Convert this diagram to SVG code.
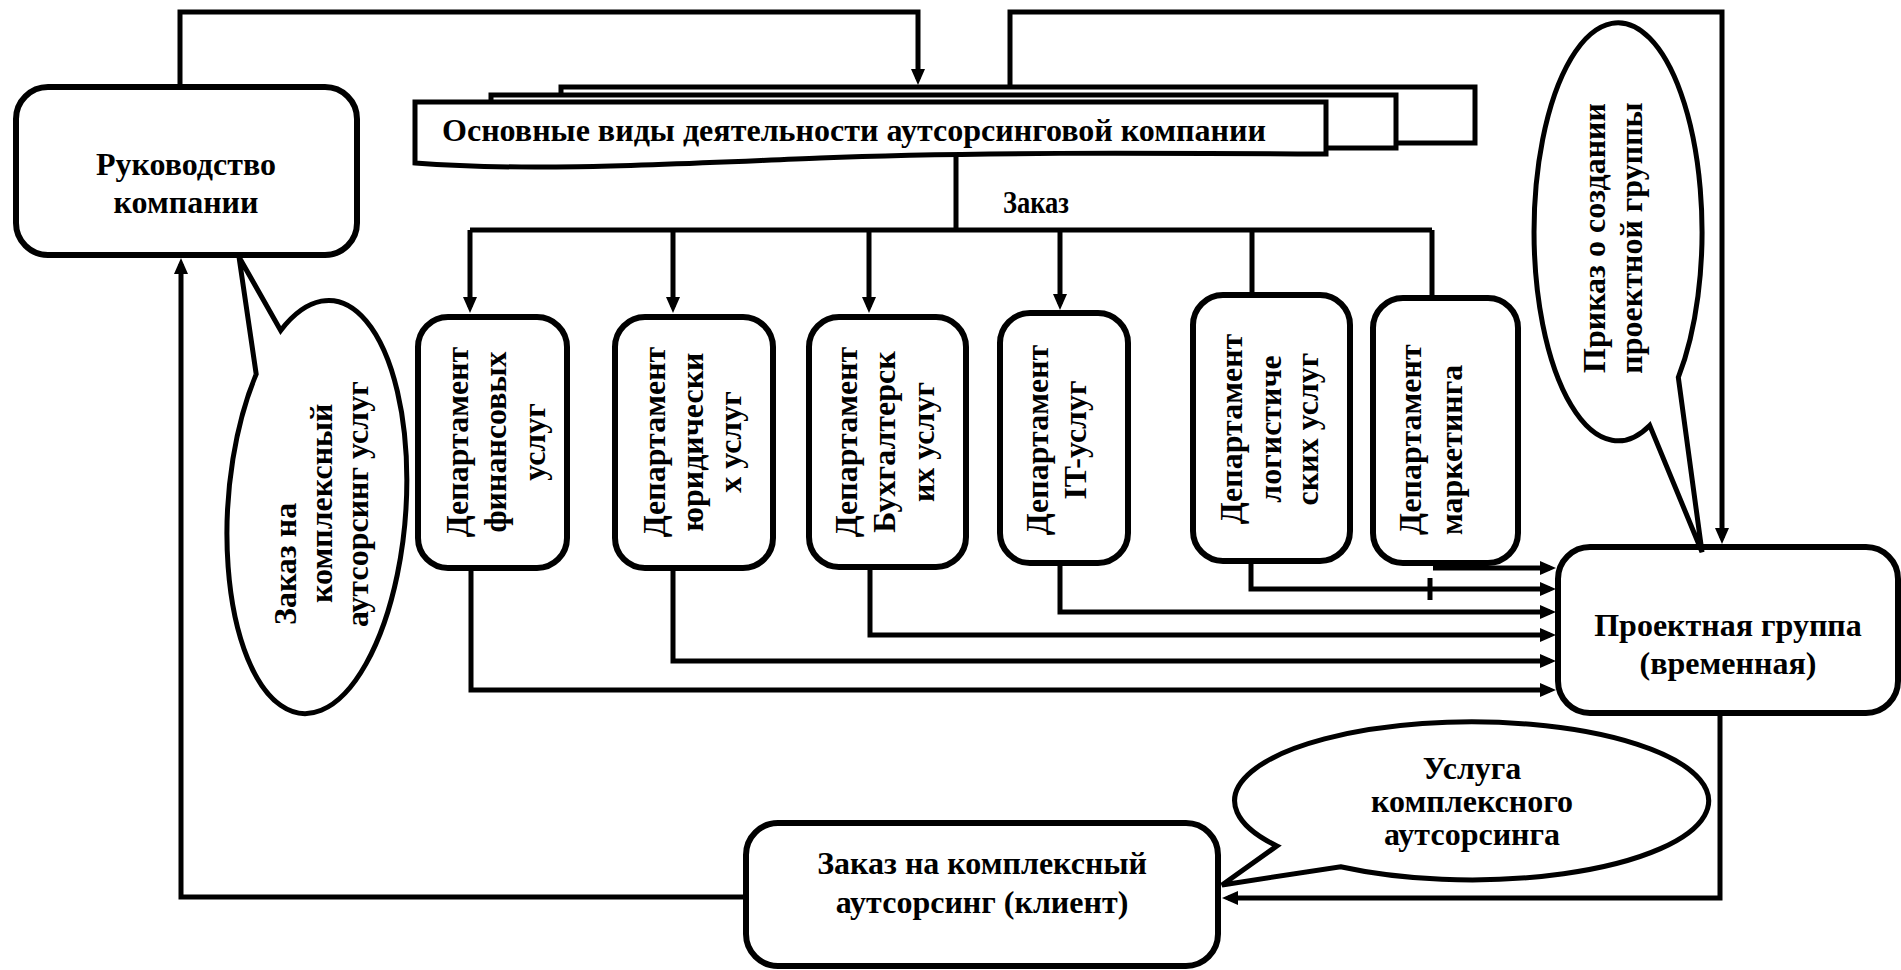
<svg xmlns="http://www.w3.org/2000/svg" width="1901" height="970" viewBox="0 0 1901 970">
<style>
.box{fill:#fff;stroke:#000;stroke-width:6}
.doc{fill:#fff;stroke:#000;stroke-width:5}
.ln{fill:none;stroke:#000;stroke-width:5}
.ar{fill:none;stroke:#000;stroke-width:5;marker-end:url(#ah)}
.call{fill:#fff;stroke:#000;stroke-width:5;stroke-linejoin:miter}
.t{font-family:'Liberation Serif','Times New Roman',serif;font-weight:bold;font-size:32px;fill:#000}
.c{text-anchor:middle}
</style>
<defs>
<marker id="ah" viewBox="0 0 16 14" markerWidth="16" markerHeight="14" refX="10" refY="7" orient="auto" markerUnits="userSpaceOnUse"><path d="M0,0L16,7L0,14Z" fill="#000"/></marker>
</defs>
<rect width="1901" height="970" fill="#fff"/>

<g id="connectors">
<path class="ar" d="M180,87V12H918V79"/>
<path class="ar" d="M1010,87V12H1722V538"/>
<path class="ln" d="M956,157V230M470,230H1432M1252,230V295M1432,230V298"/>
<path class="ar" d="M470,230V307"/>
<path class="ar" d="M673,230V307"/>
<path class="ar" d="M869,230V307"/>
<path class="ar" d="M1060,230V304"/>
<path class="ar" d="M471,570V690H1550"/>
<path class="ar" d="M673,570V661H1550"/>
<path class="ar" d="M870,570V635H1550"/>
<path class="ar" d="M1060,566V612H1550"/>
<path class="ar" d="M1251,564V589H1550"/>
<path class="ar" d="M1433,568H1550"/>
<path class="ln" d="M1430,578V600"/>
<path class="ar" d="M1720,715V898H1228"/>
<path class="ar" d="M746,897H181V264"/>
<text class="t" x="1003" y="213" font-size="26" textLength="66" lengthAdjust="spacingAndGlyphs">Заказ</text>
</g>

<g id="node-management">
<rect class="box" x="16" y="87" width="341" height="168" rx="32"/>
<text class="t c" x="186" y="175">Руководство</text>
<text class="t c" x="186" y="213">компании</text>
</g>

<g id="node-activities">
<rect class="doc" x="561" y="87" width="914" height="56"/>
<rect class="doc" x="491" y="95" width="905" height="53"/>
<path class="doc" d="M415,102H1326V154C1150,153 960,152 820,158C670,164 530,172 415,163Z"/>
<text class="t" x="442" y="141" font-size="34" textLength="824" lengthAdjust="spacingAndGlyphs">Основные виды деятельности аутсорсинговой компании</text>
</g>

<g id="node-fin">
<rect class="box" x="418" y="317" width="149" height="251" rx="30"/>
<text class="t c" x="468" y="442" transform="rotate(-90 468 442)">Департамент</text>
<text class="t c" x="506" y="442" transform="rotate(-90 506 442)">финансовых</text>
<text class="t c" x="545" y="442" transform="rotate(-90 545 442)">услуг</text>
</g>

<g id="node-law">
<rect class="box" x="615" y="317" width="158" height="251" rx="30"/>
<text class="t c" x="665" y="442" transform="rotate(-90 665 442)">Департамент</text>
<text class="t c" x="703" y="442" transform="rotate(-90 703 442)">юридически</text>
<text class="t c" x="741" y="442" transform="rotate(-90 741 442)">х услуг</text>
</g>

<g id="node-acc">
<rect class="box" x="809" y="317" width="157" height="250" rx="30"/>
<text class="t c" x="857" y="442" transform="rotate(-90 857 442)">Департамент</text>
<text class="t c" x="895" y="442" transform="rotate(-90 895 442)">Бухгалтерск</text>
<text class="t c" x="934" y="442" transform="rotate(-90 934 442)">их услуг</text>
</g>

<g id="node-it">
<rect class="box" x="1000" y="313" width="128" height="250" rx="30"/>
<text class="t c" x="1048" y="440" transform="rotate(-90 1048 440)">Департамент</text>
<text class="t c" x="1086" y="440" transform="rotate(-90 1086 440)">IT-услуг</text>
</g>

<g id="node-log">
<rect class="box" x="1193" y="295" width="157" height="266" rx="30"/>
<text class="t c" x="1242" y="429" transform="rotate(-90 1242 429)">Департамент</text>
<text class="t c" x="1281" y="429" transform="rotate(-90 1281 429)">логистиче</text>
<text class="t c" x="1318" y="429" transform="rotate(-90 1318 429)">ских услуг</text>
</g>

<g id="node-mkt">
<rect class="box" x="1373" y="298" width="145" height="265" rx="30"/>
<text class="t" x="1421" y="535" transform="rotate(-90 1421 535)">Департамент</text>
<text class="t" x="1462" y="535" transform="rotate(-90 1462 535)">маркетинга</text>
</g>

<g id="node-project">
<rect class="box" x="1558" y="547" width="340" height="166" rx="32"/>
<text class="t c" x="1728" y="636">Проектная группа</text>
<text class="t c" x="1728" y="674">(временная)</text>
</g>

<g id="node-client">
<rect class="box" x="746" y="823" width="472" height="143" rx="32"/>
<text class="t c" x="982" y="874">Заказ на комплексный</text>
<text class="t c" x="982" y="913">аутсорсинг (клиент)</text>
</g>

<g id="callout-order">
<path class="call" d="M280.7,330.4A89 207 4 1 1 256.2,374.1L239,257Z"/>
<text class="t" x="296" y="625" transform="rotate(-90 296 625)">Заказ на</text>
<text class="t" x="332" y="603" transform="rotate(-90 332 603)">комплексный</text>
<text class="t" x="368" y="627" transform="rotate(-90 368 627)">аутсорсинг услуг</text>
</g>

<g id="callout-decree">
<path class="call" d="M1678.3,377.4A84 209 0 1 0 1649.7,425.4L1702,552Z"/>
<text class="t c" x="1605" y="238" transform="rotate(-90 1605 238)">Приказ о создании</text>
<text class="t c" x="1642" y="238" transform="rotate(-90 1642 238)">проектной группы</text>
</g>

<g id="callout-service">
<path class="call" d="M1276.9,845.9A237 79 0 1 1 1340.6,866.7L1222,885Z"/>
<text class="t c" x="1472" y="779" font-size="29">Услуга</text>
<text class="t c" x="1472" y="812" font-size="29">комплексного</text>
<text class="t c" x="1472" y="845" font-size="29">аутсорсинга</text>
</g>
</svg>
